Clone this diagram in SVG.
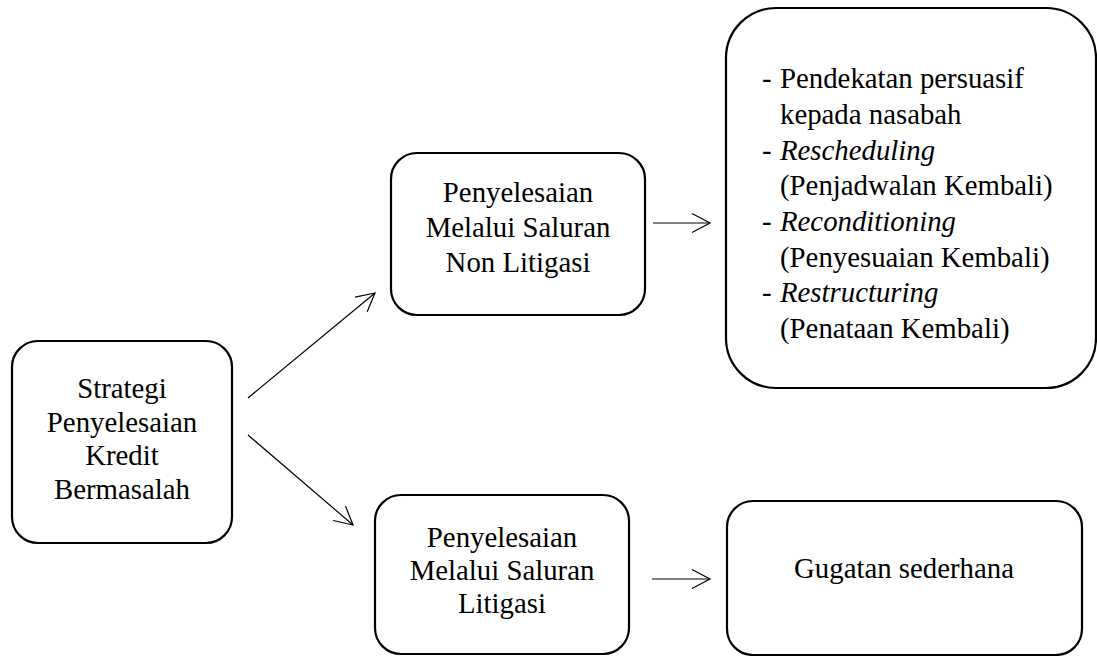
<svg xmlns="http://www.w3.org/2000/svg" width="1097" height="656" viewBox="0 0 1097 656">
<style>
.box{fill:#fff;stroke:#000;stroke-width:2.2}
.t{font-family:"Liberation Serif","Times New Roman",serif;font-size:28.8px;fill:#000}
.c{text-anchor:middle}
.con line{stroke:#000;stroke-width:1.2;marker-end:url(#arr)}
</style>
<defs>
<marker id="arr" markerUnits="userSpaceOnUse" viewBox="0 0 22 22" refX="20" refY="11" markerWidth="22" markerHeight="22" orient="auto">
<path d="M2,1.5 L20,11 L2,20.5" fill="none" stroke="#000" stroke-width="1.2"/>
</marker>
</defs>
<rect width="1097" height="656" fill="#fff"/>
<g id="n-strategi">
<rect class="box" x="12" y="341" width="220" height="202" rx="26"/>
<text class="t c" x="122" y="398">Strategi</text>
<text class="t c" x="122" y="431.5">Penyelesaian</text>
<text class="t c" x="122" y="465">Kredit</text>
<text class="t c" x="122" y="498.5">Bermasalah</text>
</g>
<g id="n-nonlitigasi">
<rect class="box" x="391" y="153" width="254" height="162" rx="26"/>
<text class="t c" x="518" y="202">Penyelesaian</text>
<text class="t c" x="518" y="237">Melalui Saluran</text>
<text class="t c" x="518" y="272">Non Litigasi</text>
</g>
<g id="n-list">
<rect class="box" x="726" y="8" width="370" height="380" rx="50"/>
<text class="t" x="762" y="88">-</text><text class="t" x="780" y="88">Pendekatan persuasif</text>
<text class="t" x="780" y="124">kepada nasabah</text>
<text class="t" x="762" y="160">-</text><text class="t" x="780" y="160" font-style="italic">Rescheduling</text>
<text class="t" x="780" y="195">(Penjadwalan Kembali)</text>
<text class="t" x="762" y="231">-</text><text class="t" x="780" y="231" font-style="italic">Reconditioning</text>
<text class="t" x="780" y="267">(Penyesuaian Kembali)</text>
<text class="t" x="762" y="302">-</text><text class="t" x="780" y="302" font-style="italic">Restructuring</text>
<text class="t" x="780" y="338">(Penataan Kembali)</text>
</g>
<g id="n-litigasi">
<rect class="box" x="375" y="495" width="254" height="159" rx="26"/>
<text class="t c" x="502" y="547">Penyelesaian</text>
<text class="t c" x="502" y="580">Melalui Saluran</text>
<text class="t c" x="502" y="613">Litigasi</text>
</g>
<g id="n-gugatan">
<rect class="box" x="727" y="501" width="355" height="154" rx="26"/>
<text class="t c" x="904" y="578">Gugatan sederhana</text>
</g>
<g id="connectors" class="con">
<line x1="248" y1="398" x2="375" y2="293"/>
<line x1="248" y1="435" x2="353" y2="525"/>
<line x1="653" y1="223" x2="710" y2="223"/>
<line x1="652" y1="579" x2="710" y2="579"/>
</g>
</svg>
